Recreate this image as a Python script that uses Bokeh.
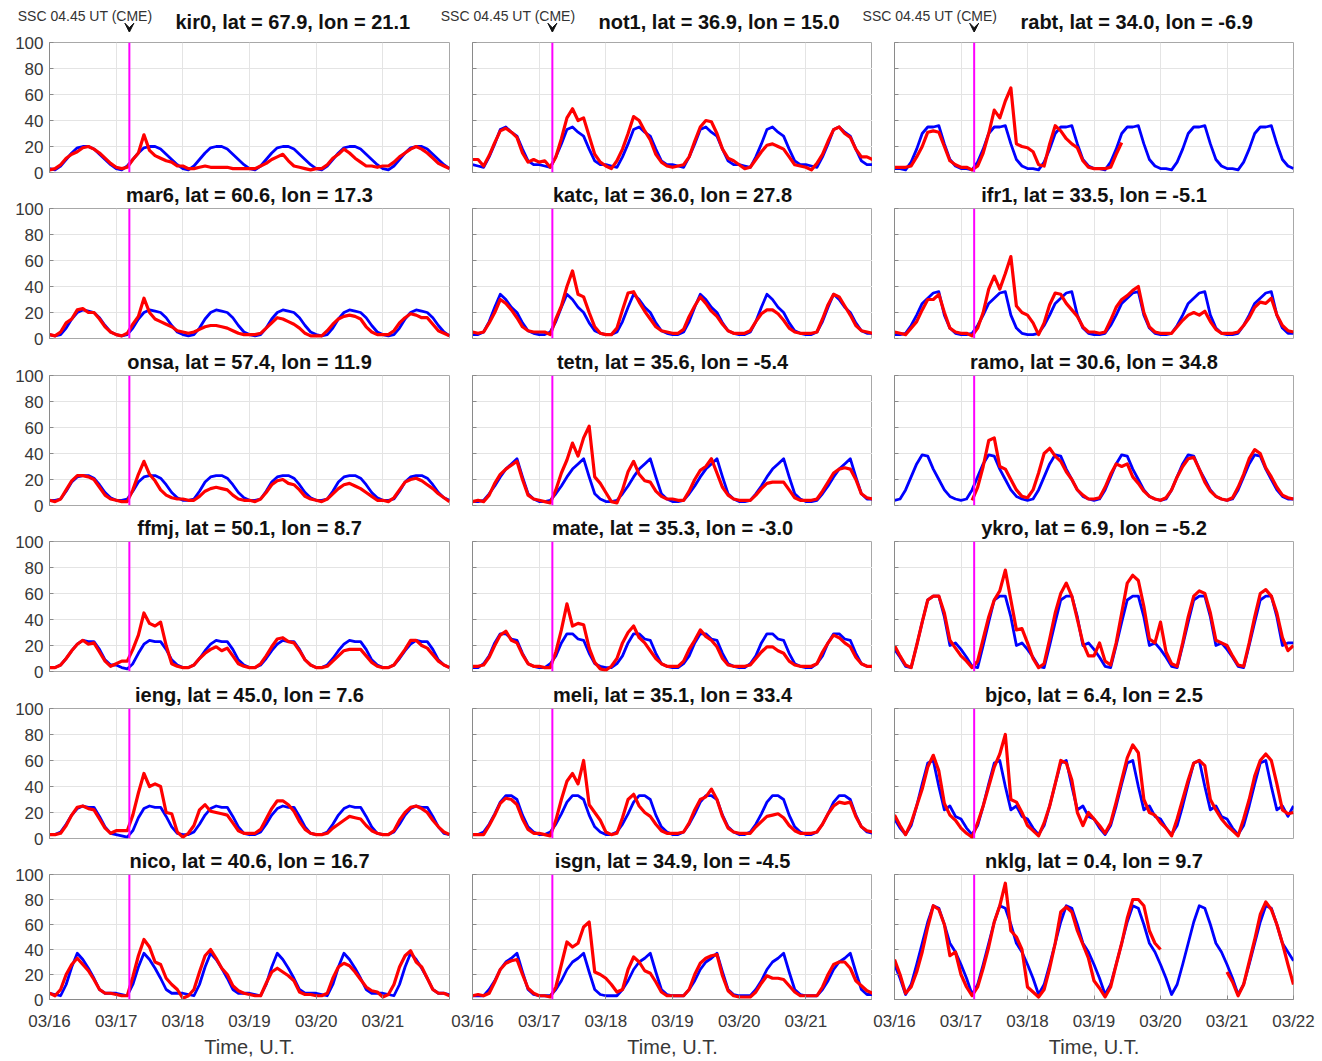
import numpy as np
from bokeh.plotting import figure
from bokeh.layouts import column, row
from bokeh.models import Range1d, FixedTicker, Span, Arrow, VeeHead
from bokeh.core.properties import value
from bokeh.embed import file_html
from bokeh.resources import INLINE

N = None
HOURS = list(range(0, 145, 2))          # UT hours since 03/16 00:00
DAY_TICKS = [0, 24, 48, 72, 96, 120, 144]
DAY_LABELS = ["03/16", "03/17", "03/18", "03/19", "03/20", "03/21", "03/22"]
Y_TICKS = [0, 20, 40, 60, 80, 100]
SSC_HOUR = 24 + 4.75
SSC_TEXT = "SSC 04.45 UT (CME)"
X_LABEL = "Time, U.T."

STATIONS = ["kir0", "not1", "rabt", "mar6", "katc", "ifr1", "onsa", "tetn", "ramo",
            "ffmj", "mate", "ykro", "ieng", "meli", "bjco", "nico", "isgn", "nklg"]
LATS = [67.9, 36.9, 34.0, 60.6, 36.0, 33.5, 57.4, 35.6, 30.6,
        50.1, 35.3, 6.9, 45.0, 35.1, 6.4, 40.6, 34.9, 0.4]
LONS = [21.1, 15.0, -6.9, 17.3, 27.8, -5.1, 11.9, -5.4, 34.8,
        8.7, -3.0, -5.2, 7.6, 33.4, 2.5, 16.7, -4.5, 9.7]

# ---------------- quiet reference (blue) ----------------
KIR0_BLUE = [3,2,5,10,15,19,20,20,18,14,10,6, 3,2,5,10,15,19,20,20,18,14,10,6,
             3,2,5,10,15,19,20,20,18,14,10,6, 3,2,5,10,15,19,20,20,18,14,10,6,
             3,2,5,10,15,19,20,20,18,14,10,6, 3,2,5,10,15,19,20,20,18,14,10,6, 3]
NOT1_BLUE = [6,5,4,12,22,33,35,31,28,18,9,6, 6,5,4,12,22,33,35,31,28,18,9,6,
             6,5,4,12,22,33,35,31,28,18,9,6, 6,5,4,12,22,33,35,31,28,18,9,6,
             6,5,4,12,22,33,35,31,28,18,9,6, 6,5,4,12,22,33,35,31,28,18,9,6, 6]
RABT_BLUE = [3,3,2,8,18,30,35,35,36,22,10,5, 3,3,2,8,18,30,35,35,36,22,10,5,
             3,3,2,8,18,30,35,35,36,22,10,5, 3,3,2,8,18,30,35,35,36,22,10,5,
             3,3,2,8,18,30,35,35,36,22,10,5, 3,3,2,8,18,30,35,35,36,22,10,5, 3]
MAR6_BLUE = [3,2,3,8,15,20,22,21,20,16,10,5, 3,2,3,8,15,20,22,21,20,16,10,5,
             3,2,3,8,15,20,22,21,20,16,10,5, 3,2,3,8,15,20,22,21,20,16,10,5,
             3,2,3,8,15,20,22,21,20,16,10,5, 3,2,3,8,15,20,22,21,20,16,10,5, 2]
KATC_BLUE = [3,3,5,13,24,34,30,24,20,12,6,4, 3,3,5,13,24,34,30,24,20,12,6,4,
             3,3,5,13,24,34,30,24,20,12,6,4, 3,3,5,13,24,34,30,24,20,12,6,4,
             3,3,5,13,24,34,30,24,20,12,6,4, 3,3,5,13,24,34,30,24,20,12,6,4, 4]
IFR1_BLUE = [3,3,4,10,18,27,31,35,36,18,8,4, 3,3,4,10,18,27,31,35,36,18,8,4,
             3,3,4,10,18,27,31,35,36,18,8,4, 3,3,4,10,18,27,31,35,36,18,8,4,
             3,3,4,10,18,27,31,35,36,18,8,4, 3,3,4,10,18,27,31,35,36,18,8,4, 4]
ONSA_BLUE = [4,4,5,11,18,22,23,23,21,16,10,6, 4,4,5,11,18,22,23,23,21,16,10,6,
             4,4,5,11,18,22,23,23,21,16,10,6, 4,4,5,11,18,22,23,23,21,16,10,6,
             4,4,5,11,18,22,23,23,21,16,10,6, 4,4,5,11,18,22,23,23,21,16,10,6, 4]
TETN_BLUE = [3,3,4,9,15,22,28,32,36,22,9,5, 3,3,4,9,15,22,28,32,36,22,9,5,
             3,3,4,9,15,22,28,32,36,22,9,5, 3,3,4,9,15,22,28,32,36,22,9,5,
             3,3,4,9,15,22,28,32,36,22,9,5, 3,3,4,9,15,22,28,32,36,22,9,5, 5]
RAMO_BLUE = [4,5,12,22,32,39,38,28,20,12,7,5, 4,5,12,22,32,39,38,28,20,12,7,5,
             4,5,12,22,32,39,38,28,20,12,7,5, 4,5,12,22,32,39,38,28,20,12,7,5,
             4,5,12,22,32,39,38,28,20,12,7,5, 4,5,12,22,32,39,38,28,20,12,7,5, 5]
FFMJ_BLUE = [3,3,5,10,16,21,24,23,23,17,9,5, 5,3,2,6,14,21,24,23,23,17,9,5,
             3,3,5,10,16,21,24,23,23,17,9,5, 3,3,5,10,16,21,24,23,23,17,9,5,
             3,3,5,10,16,21,24,23,23,17,9,5, 3,3,5,10,16,21,24,23,23,17,9,5, 3]
MATE_BLUE = [3,3,6,12,22,29,29,25,24,14,6,4, 3,3,6,12,22,29,29,25,24,14,6,4,
             3,3,6,12,22,29,29,25,24,14,6,4, 3,3,6,12,22,29,29,25,24,14,6,4,
             3,3,6,12,22,29,29,25,24,14,6,4, 3,3,6,12,22,29,29,25,24,14,6,4, 4]
YKRO_BLUE = [17,11,4,3,20,38,55,58,58,42,20,22, 17,11,4,3,20,38,55,58,58,42,20,22,
             17,11,4,3,20,38,55,58,58,42,20,22, 17,11,4,3,20,38,55,58,58,42,20,22,
             17,11,4,3,20,38,55,58,58,42,20,22, 17,11,4,3,20,38,55,58,58,42,20,22, 22]
IENG_BLUE = [3,3,5,11,18,23,25,24,24,17,9,4, 3,2,1,6,16,23,25,24,24,17,9,4,
             3,3,5,11,18,23,25,24,24,17,9,4, 3,3,5,11,18,23,25,24,24,17,9,4,
             3,3,5,11,18,23,25,24,24,17,9,4, 3,3,5,11,18,23,25,24,24,17,9,4, 3]
MELI_BLUE = [3,3,5,11,19,28,33,33,30,18,9,5, 3,3,5,11,19,28,33,33,30,18,9,5,
             3,3,5,11,19,28,33,33,30,18,9,5, 3,3,5,11,19,28,33,33,30,18,9,5,
             3,3,5,11,19,28,33,33,30,18,9,5, 3,3,5,11,19,28,33,33,30,18,9,5, 4]
BJCO_BLUE = [15,8,3,10,25,42,58,60,40,22,25,17, 15,8,3,10,25,42,58,60,40,22,25,17,
             15,8,3,10,25,42,58,60,40,22,25,17, 15,8,3,10,25,42,58,60,40,22,25,17,
             15,8,3,10,25,42,58,60,40,22,25,17, 15,8,3,10,25,42,58,60,40,22,25,17, 25]
NICO_BLUE = [5,4,3,12,26,37,32,25,17,8,5,5, 5,4,3,12,26,37,32,25,17,8,5,5,
             5,4,3,12,26,37,32,25,17,8,5,5, 5,4,3,12,26,37,32,25,17,8,5,5,
             5,4,3,12,26,37,32,25,17,8,5,5, 5,4,3,12,26,37,32,25,17,8,5,5, 4]
ISGN_BLUE = [3,3,3,8,15,24,30,33,37,22,8,4, 3,3,3,8,15,24,30,33,37,22,8,4,
             3,3,3,8,15,24,30,33,37,22,8,4, 3,3,3,8,15,24,30,33,37,22,8,4,
             3,3,3,8,15,24,30,33,37,22,8,4, 3,3,3,8,15,24,30,33,37,22,8,4, 4]
NKLG_BLUE = [28,17,4,12,28,45,62,75,73,60,45,38, 28,17,4,12,28,45,62,75,73,60,45,38,
             28,17,4,12,28,45,62,75,73,60,45,38, 28,17,4,12,28,45,62,75,73,60,45,38,
             28,17,4,12,28,45,62,75,73,60,45,38, 28,17,4,12,28,45,62,75,73,60,45,38, 31]

# ---------------- storm period (red) ----------------
KIR0_RED = [2,3,6,11,14,16,19,20,18,15,11,7, 4,3,4,10,15,29,17,13,11,9,8,5,
            5,3,3,4,5,4,4,4,4,3,3,3, 3,3,5,7,10,12,14,9,5,4,3,2,
            3,3,6,11,14,18,15,11,8,5,5,4, 5,5,8,12,15,18,20,18,15,11,7,5, 3]
NOT1_RED = [10,10,5,13,23,32,34,31,27,15,8,10, 8,9,4,12,26,42,49,40,42,28,14,8,
            5,3,9,18,30,43,40,32,25,14,8,5, 4,5,6,12,24,35,40,39,30,18,11,9,
            6,3,4,10,16,21,22,20,18,12,6,5, 4,2,7,14,24,33,35,30,27,18,12,12, 10]
RABT_RED = [4,4,4,5,12,20,31,32,31,20,9,6, 4,4,2,5,15,30,48,42,55,65,22,20,
            19,16,6,5,22,36,32,26,22,19,9,4, 3,3,3,4,14,23,N,N,N,N,N,N,
            N,N,N,N,N,N,N,N,N,N,N,N, N,N,N,N,N,N,N,N,N,N,N,N, N]
MAR6_RED = [3,2,5,12,15,22,23,20,20,15,9,5, 3,2,4,11,17,31,20,15,13,11,9,6,
            5,4,5,7,9,10,10,9,8,6,4,3, 3,3,4,8,12,16,15,13,11,8,4,2,
            2,2,6,11,15,17,18,17,15,9,5,3, 3,3,6,12,16,19,18,16,16,11,6,4, 2]
KATC_RED = [5,4,5,12,20,30,27,22,16,9,6,5, 5,5,3,15,25,40,52,34,32,20,9,4,
            3,3,8,22,35,36,28,21,15,9,6,5, 4,4,7,17,25,32,27,21,17,11,6,4,
            4,4,6,13,19,22,22,19,14,8,5,4, 4,4,5,15,26,34,32,25,18,10,6,5, 4]
IFR1_RED = [5,4,3,8,13,22,30,30,34,20,8,5, 4,4,2,8,20,38,48,38,50,63,25,20,
            18,12,3,12,26,35,34,27,22,17,9,5, 5,4,5,14,24,30,33,37,40,20,9,5,
            4,4,4,9,14,18,20,18,21,13,7,4, 4,4,5,10,16,24,28,27,31,18,10,6, 5]
ONSA_RED = [4,3,5,12,19,23,23,22,20,14,8,5, 4,3,3,12,24,34,24,19,12,8,6,5,
            5,4,4,7,11,13,14,13,12,8,5,4, 4,3,5,10,16,19,20,17,16,12,7,5,
            4,3,5,9,13,16,17,15,13,10,7,4, 4,3,6,12,18,20,21,19,16,13,9,6, 3]
TETN_RED = [3,4,3,8,17,24,28,31,34,20,8,5, 4,3,2,12,25,35,48,38,52,61,22,17,
            10,3,2,12,26,34,24,19,18,11,7,5, 5,4,4,11,20,27,30,36,25,14,8,5,
            4,4,4,8,13,17,18,18,18,12,6,4, 4,4,5,11,18,25,28,29,28,20,9,6, 5]
RAMO_RED = [N,N,N,N,N,N,N,N,N,N,N,N, N,N,4,14,30,50,52,30,28,20,12,7,
            6,12,25,40,44,38,34,26,20,12,8,5, 5,6,14,24,32,30,32,22,17,11,7,5,
            4,6,12,22,30,36,37,28,18,11,7,5, 4,6,14,24,36,43,40,29,22,14,8,6, 5]
FFMJ_RED = [3,3,5,10,16,21,24,21,22,15,8,4, 6,8,8,17,28,45,37,35,38,20,6,4,
            3,3,5,10,14,17,19,16,18,12,6,4, 3,3,6,12,19,25,26,23,22,16,9,5,
            3,3,4,8,12,16,17,17,17,12,7,4, 3,3,5,11,17,24,24,20,18,13,8,5, 3]
MATE_RED = [4,4,5,11,20,28,31,24,22,13,6,4, 4,3,3,15,32,52,35,37,36,18,7,2,
            1,4,10,22,30,35,26,22,16,10,6,4, 4,4,8,17,24,32,27,24,19,10,5,4,
            4,4,5,10,15,19,19,16,14,8,5,4, 4,4,6,15,22,28,26,22,19,11,6,4, 4]
YKRO_RED = [20,12,5,3,20,38,55,58,58,45,24,18, 12,8,3,8,25,42,55,62,78,55,32,33,
            22,10,3,6,25,45,60,68,58,40,22,12, 12,22,8,5,22,45,68,74,70,50,25,22,
            38,15,6,4,22,42,58,62,60,45,24,22, 20,12,5,4,22,42,60,63,58,45,26,16, 20]
IENG_RED = [3,3,4,10,18,24,25,23,22,15,8,4, 6,6,6,18,35,50,40,42,40,20,19,5,
            1,4,10,22,26,21,20,19,18,12,6,4, 4,4,7,15,23,29,29,26,21,13,7,4,
            3,3,4,8,11,14,17,16,15,10,6,4, 3,3,6,14,20,24,25,23,20,14,9,5, 3]
MELI_RED = [3,3,3,10,18,27,31,30,26,15,7,4, 4,3,2,14,30,44,50,42,60,26,20,14,
            5,3,4,16,30,34,25,20,17,11,6,4, 4,4,5,12,22,30,32,38,30,17,8,5,
            4,4,4,9,13,17,18,19,16,10,6,4, 4,4,5,11,19,25,28,27,28,17,9,6, 5]
BJCO_RED = [18,10,3,12,25,38,55,64,52,27,18,14, 8,4,1,12,25,40,55,65,80,30,28,20,
            10,6,2,12,25,42,60,58,45,20,10,20, 15,10,4,12,28,45,62,72,66,30,20,18,
            12,8,2,15,30,45,58,60,56,30,22,15, 10,6,2,15,30,48,60,65,60,42,22,19, 20]
NICO_RED = [5,3,8,20,28,33,28,23,16,8,5,5, 4,3,3,18,35,48,42,30,28,17,12,8,
            1,3,8,22,35,40,33,25,20,11,7,5, 4,3,3,13,22,25,22,19,15,6,4,4,
            3,3,5,17,26,29,27,22,16,10,7,6, 2,4,12,26,35,39,30,26,17,8,5,5, 3]
ISGN_RED = [3,4,3,5,14,24,29,31,32,20,9,5, 3,3,2,10,28,46,42,45,58,62,22,20,
            17,12,6,8,24,34,30,23,21,14,6,3, 3,3,3,8,20,29,33,35,36,19,7,3,
            2,2,2,6,13,19,17,17,16,11,6,3, 3,3,3,10,20,28,30,30,25,15,11,7, 5]
NKLG_RED = [32,20,5,10,22,38,58,75,72,60,35,38, 20,10,3,10,25,42,62,75,93,55,50,40,
            10,6,2,8,25,45,70,74,70,55,44,33, 15,9,2,10,28,45,65,80,80,75,55,45,
            40,N,N,N,N,N,N,N,N,N,N,N, 22,14,3,12,30,48,68,78,72,60,45,28, 12]

BLUE = [KIR0_BLUE, NOT1_BLUE, RABT_BLUE, MAR6_BLUE, KATC_BLUE, IFR1_BLUE,
        ONSA_BLUE, TETN_BLUE, RAMO_BLUE, FFMJ_BLUE, MATE_BLUE, YKRO_BLUE,
        IENG_BLUE, MELI_BLUE, BJCO_BLUE, NICO_BLUE, ISGN_BLUE, NKLG_BLUE]
RED = [KIR0_RED, NOT1_RED, RABT_RED, MAR6_RED, KATC_RED, IFR1_RED,
       ONSA_RED, TETN_RED, RAMO_RED, FFMJ_RED, MATE_RED, YKRO_RED,
       IENG_RED, MELI_RED, BJCO_RED, NICO_RED, ISGN_RED, NKLG_RED]
for b_, r_ in zip(BLUE, RED):
    assert len(b_) == len(HOURS) and len(r_) == len(HOURS)

# ---------------- layout (pixels) ----------------
FONT = "Liberation Sans"
TOTAL_W = 1320
HEADER_H = 32
COL_W = [450, 422, 448]
COL_BL = [49, 22, 22]
COL_BR = [1, 0, 27]
FRAME_LEFT = [49, 472, 894]           # page x of each column's plot frame
FRAME_W = [400, 400, 399]
ROW_BT = [10, 26, 27, 26, 27, 26]
ROW_BB = [10, 10, 10, 10, 10, 56]
FRAME_H = 130


def title_text(k):
    return f"{STATIONS[k]}, lat = {LATS[k]:.1f}, lon = {LONS[k]:.1f}"


def header():
    h = figure(width=TOTAL_W, height=HEADER_H, x_range=Range1d(0, TOTAL_W),
               y_range=Range1d(0, HEADER_H), min_border=0, title=None,
               x_axis_location=None, y_axis_location=None,
               output_backend="svg", toolbar_location=None)
    h.grid.visible = False
    h.outline_line_color = None
    h.background_fill_color = "white"
    h.border_fill_color = "white"
    ssc_x = [FRAME_LEFT[c] + SSC_HOUR / 144 * FRAME_W[c] for c in range(3)]
    h.text(x=[x + 23 for x in ssc_x], y=[17.0] * 3, text=[SSC_TEXT] * 3,
           text_align="right", text_baseline="alphabetic",
           text_font=value(FONT), text_font_size=value("14px"),
           text_color="#333333")
    h.text(x=[FRAME_LEFT[c] + 126 for c in range(3)], y=[11.0] * 3,
           text=[title_text(c) for c in range(3)],
           text_align="left", text_baseline="alphabetic",
           text_font=value(FONT), text_font_size=value("20px"),
           text_font_style="bold", text_color="#111111")
    for x in ssc_x:
        h.add_layout(Arrow(end=VeeHead(size=9, fill_color="#111111",
                                       line_color="#111111", line_width=1),
                           x_start=x, y_start=9.5,
                           x_end=x, y_end=0.3, line_alpha=0))
    return h


def panel(k):
    r, c = divmod(k, 3)
    p = figure(width=COL_W[c], height=ROW_BT[r] + FRAME_H + ROW_BB[r],
               x_range=Range1d(0, 144), y_range=Range1d(0, 100),
               title=None if r == 0 else title_text(k),
               output_backend="svg", toolbar_location=None,
               min_border_left=COL_BL[c], min_border_right=COL_BR[c],
               min_border_top=ROW_BT[r], min_border_bottom=ROW_BB[r])
    p.background_fill_color = "white"
    p.border_fill_color = "white"
    p.outline_line_color = "#a8a8a8"
    p.outline_line_width = 1

    if r > 0:
        p.title.text_font = FONT
        p.title.text_font_size = "20px"
        p.title.text_font_style = "bold"
        p.title.text_color = "#111111"
        p.title.align = "center"
        p.title.vertical_align = "top"
        p.title.standoff = 1

    p.xaxis.ticker = FixedTicker(ticks=DAY_TICKS)
    p.xgrid.ticker = FixedTicker(ticks=DAY_TICKS)
    p.yaxis.ticker = FixedTicker(ticks=Y_TICKS)
    p.ygrid.ticker = FixedTicker(ticks=Y_TICKS)
    p.grid.grid_line_color = "#e4e4e4"
    p.grid.grid_line_width = 1
    for ax in (p.xaxis[0], p.yaxis[0]):
        ax.axis_line_color = "#8a8a8a"
        ax.major_tick_line_color = "#8a8a8a"
        ax.major_tick_in = 4
        ax.major_tick_out = 0
        ax.minor_tick_line_color = None
        ax.major_label_text_font = FONT
        ax.major_label_text_font_size = "17px"
        ax.major_label_text_color = "#383838"
    p.yaxis.major_label_standoff = 6
    if c != 0:
        p.yaxis.major_label_overrides = {t: "" for t in Y_TICKS}
        p.yaxis.major_label_standoff = 0
    if r == 5:
        labels = dict(zip(DAY_TICKS, DAY_LABELS))
        if c != 2:
            labels[144] = ""
        p.xaxis.major_label_overrides = labels
        p.xaxis.major_label_standoff = 12
        p.xaxis.axis_label = X_LABEL
        p.xaxis.axis_label_text_font = FONT
        p.xaxis.axis_label_text_font_size = "20px"
        p.xaxis.axis_label_text_font_style = "normal"
        p.xaxis.axis_label_text_color = "#383838"
        p.xaxis.axis_label_standoff = 2
    else:
        p.xaxis.visible = False

    p.line(HOURS, np.array(BLUE[k], dtype=float), line_color="#0000ff",
           line_width=2.8, line_join="round")
    p.line(HOURS, np.array(RED[k], dtype=float), line_color="#ff0000",
           line_width=3.2, line_join="round")
    p.add_layout(Span(location=SSC_HOUR, dimension="height",
                      line_color="#ff00ff", line_width=2))
    return p


panels = [panel(k) for k in range(18)]
layout = column(header(), *[row(*panels[3 * i:3 * i + 3]) for i in range(6)])

with open("out.html", "w") as f:
    f.write(file_html(layout, INLINE, "TEC storm panels"))
